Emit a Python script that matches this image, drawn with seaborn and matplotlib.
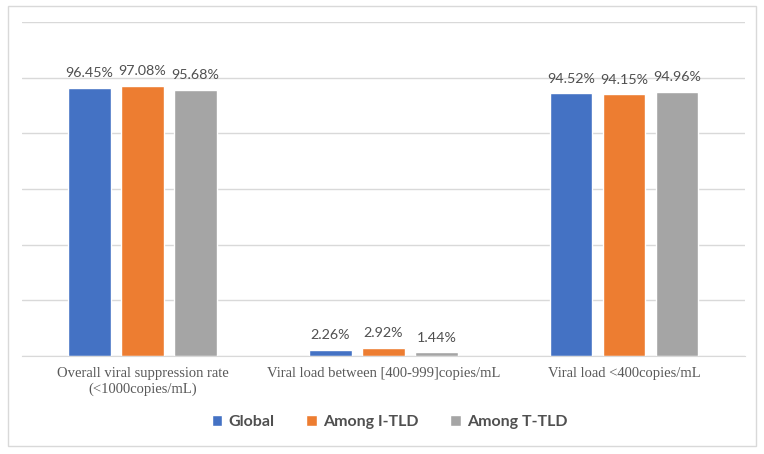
import pandas as pd
import matplotlib.pyplot as plt
import seaborn as sns
from matplotlib.patches import Rectangle

# dati (valori in %)
categories = ["Overall viral suppression rate\n(<1000copies/mL)",
              "Viral load between [400-999]copies/mL",
              "Viral load <400copies/mL"]
series = ["Global", "Among I-TLD", "Among T-TLD"]
global_vals = [96.45, 2.26, 94.52]
itld_vals = [97.08, 2.92, 94.15]
ttld_vals = [95.68, 1.44, 94.96]
colors = ["#4472C4", "#ED7D31", "#A5A5A5"]

df = pd.DataFrame({
    "category": categories * 3,
    "series": [s for s in series for _ in categories],
    "value": global_vals + itld_vals + ttld_vals,
})

sns.set_style("white")
fig = plt.figure(figsize=(7.64, 4.54), dpi=100)
ax = fig.add_axes([0.0288, 0.216, 0.946, 0.7355])

sns.barplot(data=df, x="category", y="value", hue="series", hue_order=series,
            palette=colors, width=0.66, gap=0.2, saturation=1, ax=ax, legend=True)

for cont in ax.containers:
    ax.bar_label(cont, fmt="%.2f%%", padding=6, fontsize=10.3, color="#505050", family="Lato")

ax.set_ylim(0, 120)
ax.set_yticks(range(0, 121, 20))
ax.yaxis.grid(True, color="#D9D9D9", linewidth=1)
ax.set_axisbelow(True)
ax.set_yticklabels([])
ax.tick_params(axis="y", length=0)
ax.tick_params(axis="x", length=0, pad=8)
for lab in ax.get_xticklabels():
    lab.set_family("Liberation Serif")
    lab.set_fontsize(10.5)
    lab.set_color("#595959")
ax.set_xlabel("")
ax.set_ylabel("")
for s in ["top", "left", "right"]:
    ax.spines[s].set_visible(False)
ax.spines["bottom"].set_color("#D9D9D9")

# legenda in basso
handles, labels = ax.get_legend_handles_labels()
ax.get_legend().remove()
fig.legend(handles, labels, loc="center", bbox_to_anchor=(0.51, 0.07), ncol=3,
           frameon=False, handlelength=0.65, handleheight=0.65, handletextpad=0.4,
           columnspacing=2.0, prop={"family": "Lato", "weight": "bold", "size": 11.5},
           labelcolor="#505050")

# cornice esterna
fig.patches.append(Rectangle((8 / 764, 8 / 454), 748 / 764, 440 / 454, transform=fig.transFigure,
                             fill=False, edgecolor="#D9D9D9", linewidth=1))

fig.savefig("out.png", dpi=100)
